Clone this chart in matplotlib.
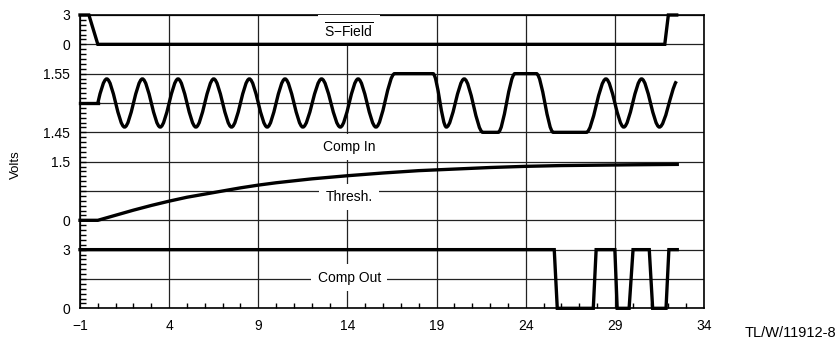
import numpy as np
import matplotlib
matplotlib.use('Agg')
import matplotlib.pyplot as plt
from matplotlib.path import Path
from matplotlib.patches import PathPatch
from matplotlib.ticker import MultipleLocator

plt.rcParams['font.family'] = ['Liberation Sans', 'DejaVu Sans']
plt.rcParams['mathtext.fontset'] = 'custom'
plt.rcParams['mathtext.rm'] = 'Liberation Sans'
plt.rcParams['mathtext.it'] = 'Liberation Sans:italic'

# --- data (time in µs, values in volts) ---
sfield_t = [-1, -0.5, 0.0, 31.8, 32.0, 32.47]
sfield_v = [3, 3, 0, 0, 3, 3]

comp_in_lead_t = [-1, 0]
comp_in_lead_v = [1.50, 1.50]
# extrema / plateau corners of the comparator input
comp_in_t = [0, 0.5, 1.5, 2.5, 3.5, 4.5, 5.5, 6.5, 7.5, 8.5, 9.5, 10.5, 11.5,
             12.55, 13.6, 14.6, 15.6, 16.65, 18.8, 19.55, 20.55, 21.6, 22.45,
             23.4, 24.6, 25.55, 27.4, 28.5, 29.5, 30.5, 31.5, 32.45]
comp_in_v = [1.50, 1.541, 1.459, 1.541, 1.459, 1.541, 1.459, 1.541, 1.459,
             1.541, 1.459, 1.541, 1.459, 1.541, 1.459, 1.541, 1.459, 1.55,
             1.55, 1.459, 1.541, 1.45, 1.45, 1.55, 1.55, 1.45, 1.45, 1.541,
             1.459, 1.541, 1.459, 1.537]

thresh_t = [-1, 0, 1, 2, 3, 4, 5, 6, 7, 8, 9, 10, 12, 14, 16, 18, 20, 22, 24,
            26, 28, 30, 32.5]
thresh_v = [0, 0, 0.13, 0.26, 0.38, 0.49, 0.59, 0.67, 0.75, 0.83, 0.90, 0.96,
            1.06, 1.14, 1.21, 1.27, 1.31, 1.35, 1.38, 1.40, 1.41, 1.42, 1.43]

comp_out_t = [-1, 25.6, 25.77, 27.79, 27.95, 29.0, 29.13, 29.8, 30.02, 30.93,
              31.12, 31.87, 32.03, 32.5]
comp_out_v = [3, 3, 0, 0, 3, 3, 0, 0, 3, 3, 0, 0, 3, 3]

ytick_labels = ['0', '', '3', '0', '', '1.5', '1.45', '', '1.55', '0', '3']


def band(v, lo, hi, y0, y1):
    # map a signal's volts onto its strip of the stacked plot
    return y0 + (np.asarray(v, dtype=float) - lo) / (hi - lo) * (y1 - y0)


def smooth_path(t, y, m_first, m_last):
    # cubic segments with flat tangents at the extrema
    t = np.asarray(t, dtype=float)
    slopes = np.zeros(len(t))
    slopes[0] = m_first
    slopes[-1] = m_last
    verts = [(t[0], y[0])]
    codes = [Path.MOVETO]
    for i in range(len(t) - 1):
        dt = t[i + 1] - t[i]
        verts += [(t[i] + dt / 3, y[i] + slopes[i] * dt / 3),
                  (t[i + 1] - dt / 3, y[i + 1] - slopes[i + 1] * dt / 3),
                  (t[i + 1], y[i + 1])]
        codes += [Path.CURVE4] * 3
    return Path(verts, codes)


fig = plt.figure(figsize=(8.38, 3.41), dpi=100)
ax = fig.add_axes([80 / 838, 1 - 308.3 / 341, 624 / 838, 293.3 / 341])

lw = 2.4
kw = dict(color='black', lw=lw, clip_on=False, zorder=4, solid_joinstyle='miter')

ax.plot(sfield_t, band(sfield_v, 0, 3, 9, 10), **kw)

ax.plot(comp_in_lead_t, band(comp_in_lead_v, 1.45, 1.55, 6, 8), **kw)
y_in = band(comp_in_v, 1.45, 1.55, 6, 8)
m0 = np.pi / 2 * (y_in[1] - y_in[0]) / (comp_in_t[1] - comp_in_t[0])
m1 = 0.6 * (y_in[-1] - y_in[-2]) / (comp_in_t[-1] - comp_in_t[-2])
ax.add_patch(PathPatch(smooth_path(comp_in_t, y_in, m0, m1), fill=False,
                       lw=lw, ec='black', zorder=4, capstyle='butt'))

ax.plot(thresh_t, band(thresh_v, 0, 1.5, 3, 5), **kw)
ax.plot(comp_out_t, band(comp_out_v, 0, 3, 0, 2), **kw)

# axes, grid, ticks
ax.set_xlim(-1, 34)
ax.set_ylim(0, 10)
ax.set_xticks(range(-1, 35, 5))
ax.xaxis.set_minor_locator(MultipleLocator(1))
ax.set_yticks(range(11))
ax.set_yticklabels(ytick_labels)
ax.grid(which='major', color='#222222', lw=0.9, zorder=1)
ax.tick_params(axis='x', which='major', direction='in', length=0, pad=8,
               labelsize=10)
ax.tick_params(axis='y', which='major', direction='in', length=0, pad=7,
               labelsize=10)
ax.tick_params(axis='x', which='minor', direction='in', length=3.8,
               width=1.0, color='black')
# fine scale marks along the left edge, six per division
ax.hlines(np.arange(0, 10.01, 1 / 6), 0, 0.0095,
          transform=ax.get_yaxis_transform(), color='black', lw=1.0,
          zorder=2)
for s in ax.spines.values():
    s.set_linewidth(1.2)

box = dict(boxstyle='square,pad=0.45', fc='white', ec='none')
ax.text(14.1, 9.47, r'$\overline{\mathrm{S{-}Field}}$', ha='center',
        va='center', fontsize=10, bbox=box, zorder=3)
ax.text(14.1, 5.5, 'Comp In', ha='center', va='center', fontsize=10,
        bbox=box, zorder=3)
ax.text(14.1, 3.8, 'Thresh.', ha='center', va='center', fontsize=10,
        bbox=box, zorder=3)
ax.text(14.1, 1.05, 'Comp Out', ha='center', va='center', fontsize=10,
        bbox=box, zorder=3)

fig.text(16 / 838, 1 - 165 / 341, 'Volts', rotation=90, ha='center',
         va='center', fontsize=9.5)
fig.text(836 / 838, 1 - 333 / 341, 'TL/W/11912-8', ha='right', va='center',
         fontsize=10.5)

fig.savefig('out.png', dpi=100)
